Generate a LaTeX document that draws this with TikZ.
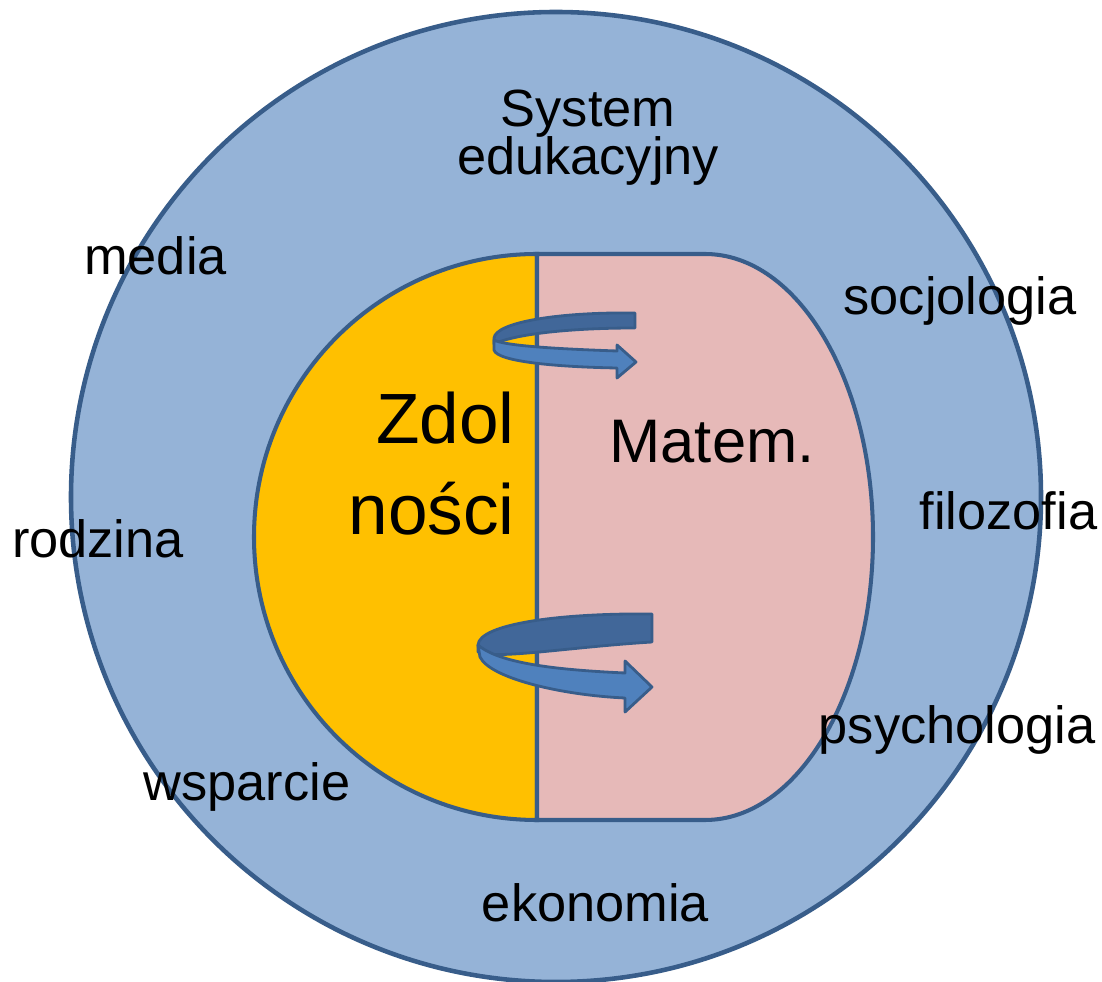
\documentclass[tikz,border=0pt]{standalone}
\usepackage{fontspec}
\setmainfont{Liberation Sans}
\definecolor{edge}{RGB}{56,93,138}
\definecolor{outerfill}{RGB}{149,179,215}
\definecolor{yel}{RGB}{255,192,0}
\definecolor{pinkf}{RGB}{230,185,184}
\definecolor{arrfront}{RGB}{79,129,189}
\definecolor{arrback}{RGB}{65,103,153}
\tikzset{
  lbl/.style={inner sep=0pt, text=black, font=\fontsize{29.8}{36}\selectfont},
  biglbl/.style={inner sep=0pt, text=black, font=\fontsize{40.5}{48}\selectfont},
  midlbl/.style={inner sep=0pt, text=black, font=\fontsize{35}{42}\selectfont},
  shapeline/.style={draw=edge, line width=2.3pt},
  frontband/.style={fill=arrfront, draw=edge, line width=1.6pt, line join=round},
  backband/.style={fill=arrback, draw=edge, line width=1.6pt, line join=round}
}
\begin{document}
\begin{tikzpicture}[x=0.02cm, y=-0.02cm]
\useasboundingbox (0,0) rectangle (1102,982);
% outer circle
\draw[fill=outerfill, draw=edge, line width=2.6pt] (556,497) circle[radius=485];
% left half (yellow)
\filldraw[shapeline, fill=yel] (537,254) arc[start angle=270, end angle=90, radius=283] -- cycle;
% right shape (pink)
\filldraw[shapeline, fill=pinkf] (537,254) -- (705,254)
  arc[start angle=270, end angle=450, x radius=168, y radius=283]
  -- (537,820) -- cycle;
% top circular arrow
\filldraw[backband] (635,313) .. controls (560,312) and (496,322) .. (494,338)
  -- (494,344) .. controls (515,334) and (570,328) .. (635,328) -- cycle;
\filldraw[frontband] (494,340) -- (494,350) .. controls (497,362) and (560,367) .. (617,368)
  -- (617,378) -- (636,362) -- (617,345) -- (617,351)
  .. controls (560,349) and (505,346) .. (494,340) -- cycle;
% bottom circular arrow
\filldraw[backband] (652,614) .. controls (560,613) and (479,624) .. (478,645)
  -- (478,652) .. controls (495,660) and (570,647) .. (652,642) -- cycle;
\filldraw[frontband] (478,645) -- (480,657) .. controls (490,678) and (560,695) .. (625,698)
  -- (625,712) -- (652,687) -- (625,661) -- (625,673)
  .. controls (560,670) and (500,664) .. (478,645) -- cycle;
% labels
\node[lbl, anchor=base] (system) at (588,127) {System};
\node[lbl, anchor=base] (eduk) at (588,175) {edukacyjny};
\node[lbl, anchor=base] (media) at (155.5,275) {media};
\node[lbl, anchor=base] (socjo) at (960,315) {socjologia};
\node[lbl, anchor=base] (rodz) at (98,558) {rodzina};
\node[lbl, anchor=base] (filo) at (1008.5,530) {filozofia};
\node[lbl, anchor=base] (psych) at (957,744) {psychologia};
\node[lbl, anchor=base] (wspar) at (247,800) {wsparcie};
\node[lbl, anchor=base] (ekon) at (595.5,921) {ekonomia};
\node[biglbl, anchor=base east] (zdol) at (515,444) {Zdol};
\node[biglbl, anchor=base east] (nosci) at (515,535) {ności};
\node[midlbl, anchor=base] (matem) at (712,463) {Matem.};
\end{tikzpicture}
\end{document}
